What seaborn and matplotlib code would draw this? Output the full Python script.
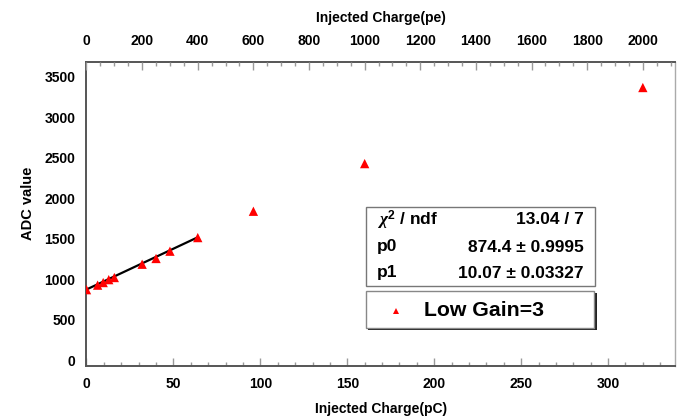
import numpy as np
import pandas as pd
import matplotlib
matplotlib.use("Agg")
import matplotlib.pyplot as plt
from matplotlib.ticker import MultipleLocator
from matplotlib.patches import Rectangle
import seaborn as sns

# ---- data ----
charge_pc = [0, 6.4, 9.6, 12.8, 16, 32, 40, 48, 64, 96, 160, 320]
adc_value = [872, 928, 960, 996, 1022, 1186, 1257, 1347, 1515, 1840, 2428, 3367]
fit_p0 = 874.4
fit_p1 = 10.07
fit_range = [0, 64]
pe_per_pc = 6.25
series_label = "Low Gain=3"
stats_rows = [("$\\chi^2$ / ndf", "13.04 / 7"),
              ("p0", "874.4 \u00b1 0.9995"),
              ("p1", "10.07 \u00b1 0.03327")]

sns.set_theme(style="white")
plt.rcParams['font.family'] = ['Liberation Sans', 'DejaVu Sans']
plt.rcParams['font.weight'] = 'bold'
plt.rcParams['text.color'] = 'black'
plt.rcParams['axes.labelcolor'] = 'black'
plt.rcParams['xtick.labelcolor'] = 'black'
plt.rcParams['ytick.labelcolor'] = 'black'
plt.rcParams['mathtext.fontset'] = 'custom'
plt.rcParams['mathtext.it'] = 'Liberation Serif:italic'
plt.rcParams['mathtext.rm'] = 'Liberation Sans:bold'

W, H = 681, 416
fig = plt.figure(figsize=(W / 100, H / 100), dpi=100)
fig.patch.set_facecolor('white')

def fx(px):
    return px / W

def fy(py):
    return 1 - py / H

ax = fig.add_axes([fx(86.5), fy(366), fx(675) - fx(86.5), fy(62) - fy(366)])

df = pd.DataFrame({"charge": charge_pc, "adc": adc_value})
fit_df = pd.DataFrame({"charge": fit_range,
                       "adc": [fit_p0 + fit_p1 * x for x in fit_range]})

sns.lineplot(data=fit_df, x="charge", y="adc", color="black", lw=1.6, ax=ax, zorder=2)
sns.scatterplot(data=df, x="charge", y="adc", marker="^", color="red",
                s=45, edgecolor="none", ax=ax, zorder=3)

xmax = 338.5
ax.set_xlim(0, xmax)
ax.set_ylim(-70, 3682)
ax.xaxis.set_major_locator(MultipleLocator(50))
ax.xaxis.set_minor_locator(MultipleLocator(10))
ax.yaxis.set_major_locator(MultipleLocator(500))
ax.yaxis.set_minor_locator(MultipleLocator(100))

tick_col = "#9a9a9a"
ax.tick_params(axis='x', which='major', direction='in', length=5.8, width=1.0,
               color=tick_col, labelcolor='black', labelsize=10, pad=8, top=False)
ax.tick_params(axis='x', which='minor', direction='in', length=2.6, width=1.0,
               color=tick_col, top=False)
ax.tick_params(axis='y', which='major', direction='in', length=12.2, width=1.0,
               color=tick_col, labelcolor='black', labelsize=10, pad=8, right=False)
ax.tick_params(axis='y', which='minor', direction='in', length=6.3, width=1.0,
               color=tick_col, right=False)
for lab in ax.get_xticklabels() + ax.get_yticklabels():
    lab.set_fontweight('bold')

for side in ['left', 'bottom', 'top']:
    ax.spines[side].set_color('#555555')
    ax.spines[side].set_linewidth(1.4)
ax.spines['right'].set_color('#aaaaaa')
ax.spines['right'].set_linewidth(1.0)

ax.set_xlabel("Injected Charge(pC)", fontsize=10, fontweight='bold', labelpad=8,
              color='black')
ax.set_ylabel("ADC value", fontsize=10.5, fontweight='bold', color='black')
ax.yaxis.set_label_coords(-0.087, 0.535)

# top axis in pe
ax2 = ax.twiny()
ax2.set_xlim(0, xmax * pe_per_pc)
ax2.xaxis.set_major_locator(MultipleLocator(200))
ax2.xaxis.set_minor_locator(MultipleLocator(50))
ax2.tick_params(axis='x', which='major', direction='in', length=5.8, width=1.0,
                color=tick_col, labelcolor='black', labelsize=10, pad=10)
ax2.tick_params(axis='x', which='minor', direction='in', length=2.6, width=1.0,
                color=tick_col)
for lab in ax2.get_xticklabels():
    lab.set_fontweight('bold')
ax2.set_xlabel("Injected Charge(pe)", fontsize=10, fontweight='bold', labelpad=9,
               color='black')
for s in ax2.spines.values():
    s.set_visible(False)

# stats box
sb = Rectangle((fx(366), fy(286)), fx(595) - fx(366), fy(207) - fy(286),
               transform=fig.transFigure, facecolor='white', edgecolor='#777777',
               lw=1.0, zorder=5)
fig.patches.append(sb)
row_y = [220, 247, 273]
for (l, r), yy in zip(stats_rows, row_y):
    fig.text(fx(377), fy(yy), l, fontsize=12.5, fontweight='bold', color='black',
             ha='left', va='center', zorder=6)
    fig.text(fx(584), fy(yy), r, fontsize=12.5, fontweight='bold', color='black',
             ha='right', va='center', zorder=6)

# legend box with shadow
shadow = Rectangle((fx(368), fy(330)), fx(597) - fx(368), fy(293) - fy(330),
                   transform=fig.transFigure, facecolor='#222222', edgecolor='none',
                   zorder=5)
fig.patches.append(shadow)
lb = Rectangle((fx(366), fy(328)), fx(594) - fx(366), fy(291) - fy(328),
               transform=fig.transFigure, facecolor='white', edgecolor='#888888',
               lw=1.0, zorder=5)
fig.patches.append(lb)
fig.lines.append(plt.Line2D([fx(396)], [fy(311)], marker='^', color='red',
                            markersize=4.5, markeredgewidth=0,
                            transform=fig.transFigure, zorder=6))
fig.text(fx(424), fy(311), series_label, fontsize=15.3, fontweight='bold',
         color='black', ha='left', va='center', zorder=6)

fig.savefig("out.png", dpi=100, facecolor='white')
